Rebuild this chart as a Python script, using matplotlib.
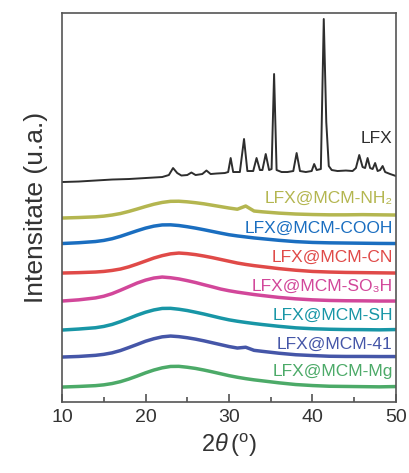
import matplotlib
matplotlib.use('Agg')
import matplotlib.pyplot as plt
from matplotlib.ticker import MultipleLocator

plt.rcParams['font.family'] = ['Liberation Sans', 'DejaVu Sans']
plt.rcParams['mathtext.fontset'] = 'custom'
plt.rcParams['mathtext.rm'] = 'Liberation Sans'
plt.rcParams['mathtext.it'] = 'Liberation Sans:italic'

# LFX crystalline pattern (2theta, stacked intensity)
lfx_tt = [10, 12, 14, 16, 18, 20, 22, 22.8, 23.3, 23.8, 24.3, 25, 25.5, 26, 26.8, 27.3, 27.8,
          28.5, 29.5, 29.9, 30.2, 30.5, 31.3, 31.8, 32.2, 32.9, 33.3, 33.7, 34.0, 34.4, 34.8,
          35.1, 35.4, 35.7, 36.3, 37, 37.7, 38.1, 38.5, 39.2, 39.9, 40.2, 40.5, 41.0, 41.35,
          41.65, 41.95, 42.3, 43, 44, 44.8, 45.2, 45.6, 46.0, 46.3, 46.6, 46.9, 47.2, 47.5,
          47.8, 48.1, 48.4, 48.7, 49.3, 50]
lfx_int = [220, 220.5, 221.5, 222.5, 223, 224, 225, 227, 234, 229, 226.5, 227, 229.5, 227, 228,
           231.5, 228, 228.5, 229, 230, 244, 230, 230, 263, 231, 231, 244, 232, 232, 248, 232,
           233, 328, 232, 230, 230, 231, 249, 231, 230, 231, 238, 232, 233, 383,
           280, 236, 232, 231, 231.5, 231, 234, 247, 235, 234, 244, 234, 233, 239,
           231, 232, 236, 230, 228, 226]

# amorphous LFX@MCM samples
tt = [10, 12, 14, 15, 16, 17, 18, 19, 20, 21, 22, 23, 24, 25, 26, 27, 28, 29, 30, 31, 32, 33,
      34, 36, 38, 40, 42, 44, 46, 48, 50]
nh2 = [184, 184.5, 185.2, 185.9, 187, 188.5, 190.6, 193, 195.5, 197.8, 199.6, 200.7, 200.8,
       200.2, 199.3, 198.2, 196.8, 195.4, 194, 192.8, 196, 191, 190.2, 188.9, 188, 187.5,
       187.2, 187.2, 187.4, 187.2, 187]
cooh = [158.5, 159.3, 160.5, 161.6, 163.3, 165.7, 168.5, 171.3, 173.9, 175.9, 177.1, 177.2,
        176.5, 175.3, 173.9, 172.3, 170.6, 168.9, 167.3, 166.1, 165.1, 164.1, 163.3, 161.7,
        160.4, 159.6, 159.2, 159, 158.8, 158.6, 158.5]
cn = [129, 129.4, 130, 130.6, 131.6, 133, 135.2, 138, 141, 144, 146.4, 148.2, 149, 148.4,
      147.4, 146, 144.4, 142.6, 140.8, 139, 137.6, 136.4, 135.4, 133.4, 131.8, 130.6, 130,
      129.6, 129.4, 129.2, 129]
so3h = [101, 102.2, 104.1, 105.8, 108.4, 111.8, 115.4, 119, 121.9, 124, 125, 124.3, 123.1,
        121.4, 119.5, 117.3, 115.2, 113, 111.3, 109.9, 108.7, 107.5, 106.5, 104.6, 103.2,
        102.2, 101.6, 101.3, 101.2, 101, 101]
sh = [72, 73, 74.3, 75.6, 77.6, 80.4, 83.6, 86.9, 89.8, 92.1, 93.6, 93.7, 92.8, 91.5, 89.8,
      88, 86, 84, 82.2, 80.8, 79.6, 78.5, 77.5, 75.7, 74.2, 73.3, 72.8, 72.5, 72.4, 72.2, 72.5]
mcm41 = [45, 45.6, 46.7, 47.7, 49.2, 51.5, 54.5, 57.6, 60.8, 63.3, 65.2, 66, 65.4, 64.3, 62.9,
         61.2, 59.3, 57.4, 55.5, 54, 54.8, 51.7, 50.7, 48.8, 47.3, 46.5, 45.8, 45.6, 45.6,
         45.5, 45.5]
mg = [15, 15.6, 16.4, 17.2, 18.5, 20.4, 23, 26, 29.2, 32, 34.2, 35.6, 35.7, 34.8, 33.6, 32,
      30.2, 28.3, 26.4, 24.8, 23.4, 22.2, 21.2, 19.2, 17.5, 16.5, 15.8, 15.6, 15.4, 15.2, 15.5]

names = ['LFX@MCM-NH\u2082', 'LFX@MCM-COOH', 'LFX@MCM-CN', 'LFX@MCM-SO\u2083H',
         'LFX@MCM-SH', 'LFX@MCM-41', 'LFX@MCM-Mg']
series = [nh2, cooh, cn, so3h, sh, mcm41, mg]
colors = ['#b4b650', '#1a6ec0', '#e04a48', '#d2479a', '#1896a6', '#4556a8', '#4caa68']
label_y = [204, 174, 145, 116, 87, 58, 31]

fig = plt.figure(figsize=(4.09, 4.73), dpi=100)
ax = fig.add_axes([0.1516, 0.150, 0.8166, 0.8225])

ax.plot(lfx_tt, lfx_int, color='#2e2e2e', lw=1.4)
ax.text(49.6, 264, 'LFX', color='#2e2e2e', fontsize=12.5, ha='right', va='center')

for name, y, c, ly in zip(names, series, colors, label_y):
    ax.plot(tt, y, color=c, lw=2.5, solid_joinstyle='round')
    ax.text(49.6, ly, name, color=c, fontsize=12.5, ha='right', va='center')

ax.set_xlim(10, 50)
ax.set_ylim(0, 389)
ax.xaxis.set_major_locator(MultipleLocator(10))
ax.xaxis.set_minor_locator(MultipleLocator(5))
ax.tick_params(axis='x', which='major', direction='in', length=6, width=1.1,
               labelsize=14, colors='#444444', labelcolor='#333333', pad=5)
ax.tick_params(axis='x', which='minor', direction='in', length=3.5, width=1.1, colors='#444444')
ax.set_yticks([])
for sp in ax.spines.values():
    sp.set_color('#555555')
    sp.set_linewidth(1.2)

ax.set_xlabel(r'$2\theta\,(^{\rm o})$', fontsize=17, color='#333333', labelpad=4)
ax.set_ylabel('Intensitate (u.a.)', fontsize=19, color='#333333', labelpad=10)

fig.savefig('out.png', dpi=100)
